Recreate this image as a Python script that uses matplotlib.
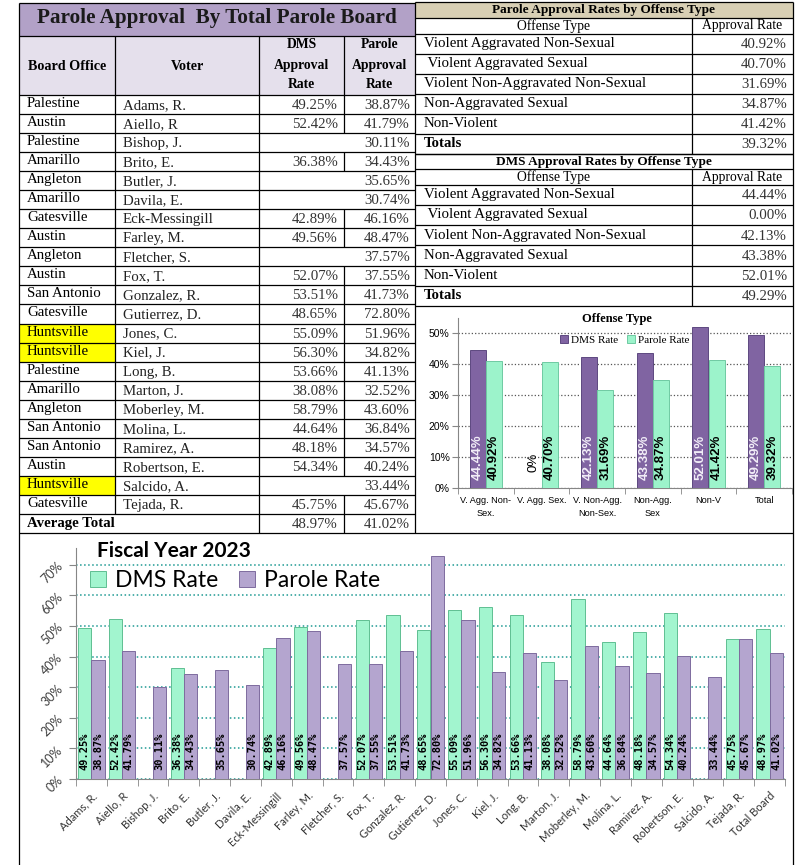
import numpy as np
import matplotlib
matplotlib.use('Agg')
import matplotlib.pyplot as plt
import matplotlib.patches as pch

# ---- data ----
offices = ["Palestine", "Austin", "Palestine", "Amarillo", "Angleton", "Amarillo",
           "Gatesville", "Austin", "Angleton", "Austin", "San Antonio", "Gatesville",
           "Huntsville", "Huntsville", "Palestine", "Amarillo", "Angleton",
           "San Antonio", "San Antonio", "Austin", "Huntsville", "Gatesville"]
voters = ["Adams, R.", "Aiello, R", "Bishop, J.", "Brito, E.", "Butler, J.", "Davila, E.",
          "Eck-Messingill", "Farley, M.", "Fletcher, S.", "Fox, T.", "Gonzalez, R.",
          "Gutierrez, D.", "Jones, C.", "Kiel, J.", "Long, B.", "Marton, J.",
          "Moberley, M.", "Molina, L.", "Ramirez, A.", "Robertson, E.", "Salcido, A.",
          "Tejada, R."]
dms_rate = [49.25, 52.42, None, 36.38, None, None, 42.89, 49.56, None, 52.07, 53.51,
            48.65, 55.09, 56.30, 53.66, 38.08, 58.79, 44.64, 48.18, 54.34, None, 45.75]
parole_rate = [38.87, 41.79, 30.11, 34.43, 35.65, 30.74, 46.16, 48.47, 37.57, 37.55,
               41.73, 72.80, 51.96, 34.82, 41.13, 32.52, 43.60, 36.84, 34.57, 40.24,
               33.44, 45.67]
avg_dms = 48.97
avg_parole = 41.02
highlight_office = "Huntsville"

offense_types = ["Violent Aggravated Non-Sexual", " Violent Aggravated Sexual",
                 "Violent Non-Aggravated Non-Sexual", "Non-Aggravated Sexual",
                 "Non-Violent"]
offense_parole = [40.92, 40.70, 31.69, 34.87, 41.42]
offense_parole_total = 39.32
offense_dms = [44.44, 0.00, 42.13, 43.38, 52.01]
offense_dms_total = 49.29
offense_short = ["V. Agg. Non-\nSex.", "V. Agg. Sex.", "V. Non-Agg.\nNon-Sex.",
                 "Non-Agg.\nSex", "Non-V", "Total"]

W, H = 811, 865
SERIF = "Liberation Serif"
ROW_FS = 10.7

fig = plt.figure(figsize=(W / 100, H / 100), dpi=100)
bg = fig.add_axes([0, 0, 1, 1])
bg.set_xlim(0, W)
bg.set_ylim(H, 0)
bg.axis('off')


def px_axes(x0, y0, x1, y1):
    a = fig.add_axes([x0 / W, 1 - y1 / H, (x1 - x0) / W, (y1 - y0) / H])
    a.set_facecolor('none')
    return a


def line(xs, ys, lw=0.9):
    bg.plot(xs, ys, color='black', lw=lw, solid_capstyle='butt')


def pct(v):
    return f"{v:.2f}%"


# ---- left table ----
L, C1, C2, C3, R = 19, 115, 259, 344, 415
top, title_b, head_b = 3, 36, 95
rh = (533 - head_b) / 23

bg.add_patch(pch.Rectangle((L, top), R - L, title_b - top, fc='#b2a1c7', ec='none'))
bg.add_patch(pch.Rectangle((L, title_b), R - L, head_b - title_b, fc='#e5e0ec', ec='none'))
bg.text((L + R) / 2, 18, "Parole Approval  By Total Parole Board", family=SERIF,
        weight='bold', size=15.2, ha='center', va='center', color='#1a1a1a')
bg.text((L + C1) / 2, 66, "Board Office", family=SERIF, weight='bold', size=10.2,
        ha='center', va='center')
bg.text((C1 + C2) / 2, 66, "Voter", family=SERIF, weight='bold', size=10.2,
        ha='center', va='center')
for xc in [(C2 + C3) / 2, (C3 + R) / 2]:
    first = "DMS" if xc < C3 else "Parole"
    for t, yy in zip([first, "Approval", "Rate"], [45, 65, 84]):
        bg.text(xc, yy, t, family=SERIF, weight='bold', size=9.8, ha='center', va='center')

for yy in [top, title_b, head_b]:
    line([L, R], [yy, yy])
for xx in [C1, C2, C3]:
    line([xx, xx], [title_b, head_b])

for i in range(22):
    y0 = head_b + i * rh
    if offices[i] == highlight_office:
        bg.add_patch(pch.Rectangle((L, y0), C1 - L, rh, fc='#ffff00', ec='none'))
    bg.text(L + 8, y0 + 8.5, offices[i], family=SERIF, size=ROW_FS, va='center')
    bg.text(C1 + 8, y0 + 10.5, voters[i], family=SERIF, size=ROW_FS, va='center',
            color='#222222')
    if dms_rate[i] is not None:
        bg.text(C3 - 6, y0 + 10.5, pct(dms_rate[i]), family=SERIF, size=ROW_FS,
                ha='right', va='center', color='#333333')
        line([C3, C3], [y0, y0 + rh])
    bg.text(R - 5, y0 + 10.5, pct(parole_rate[i]), family=SERIF, size=ROW_FS,
            ha='right', va='center', color='#333333')
    line([C1, C1], [y0, y0 + rh])
    line([C2, C2], [y0, y0 + rh])
    line([L, R], [y0 + rh, y0 + rh])

y0 = head_b + 22 * rh
bg.text(L + 8, y0 + 9.5, "Average Total", family=SERIF, weight='bold', size=ROW_FS,
        va='center')
bg.text(C3 - 6, y0 + 10.5, pct(avg_dms), family=SERIF, size=ROW_FS, ha='right',
        va='center', color='#333333')
bg.text(R - 5, y0 + 10.5, pct(avg_parole), family=SERIF, size=ROW_FS, ha='right',
        va='center', color='#333333')
line([C2, C2], [y0, y0 + rh])
line([C3, C3], [y0, y0 + rh])

# ---- right tables ----
RL, RC, RR = 415, 692, 793


def offense_table(y_top, y_tb, y_hb, y_bot, title, names, vals, total, fill):
    if fill:
        bg.add_patch(pch.Rectangle((RL, y_top), RR - RL, y_tb - y_top, fc=fill, ec='none'))
    bg.text((RL + RR) / 2, (y_top + y_tb) / 2 + 0.5, title, family=SERIF, weight='bold',
            size=9.5, ha='center', va='center')
    bg.text((RL + RC) / 2, (y_tb + y_hb) / 2 + 0.5, "Offense Type", family=SERIF, size=9.8,
            ha='center', va='center')
    bg.text((RC + RR) / 2, (y_tb + y_hb) / 2 + 0.5, "Approval Rate", family=SERIF,
            size=9.8, ha='center', va='center')
    line([RL, RR], [y_top, y_top])
    line([RL, RR], [y_tb, y_tb])
    line([RL, RR], [y_hb, y_hb])
    line([RC, RC], [y_tb, y_bot])
    h = (y_bot - y_hb) / 6
    rows = list(zip(names, vals)) + [("Totals", total)]
    for k, (nm, v) in enumerate(rows):
        yc = y_hb + k * h + h / 2
        bold = 'bold' if nm == "Totals" else 'normal'
        bg.text(RL + 9, yc, nm, family=SERIF, size=ROW_FS, weight=bold, va='center')
        bg.text(RR - 6, yc + 1, pct(v), family=SERIF, size=ROW_FS, ha='right',
                va='center', color='#333333')
        line([RL, RR], [y_hb + (k + 1) * h] * 2)


offense_table(2, 17.5, 33.5, 154, "Parole Approval Rates by Offense Type",
              offense_types, offense_parole, offense_parole_total, '#d8cfb4')
offense_table(154, 168.5, 184.5, 306, "DMS Approval Rates by Offense Type",
              offense_types, offense_dms, offense_dms_total, None)

line([RL, RL], [2, 533])
line([RR, RR], [2, H])
line([L, L], [top, H])
line([L, RR], [533, 533])

# ---- small offense chart ----
dms_dark = '#8064a2'
green = '#9cf3cb'
ax2 = px_axes(458, 318, 792, 488)
x6 = np.arange(6)
d_vals = np.array(offense_dms + [offense_dms_total]) / 100
p_vals = np.array(offense_parole + [offense_parole_total]) / 100
bw = 0.29
ax2.bar(x6 - bw / 2, d_vals, bw, color=dms_dark, edgecolor='#5d4880', lw=0.7,
        label='DMS Rate', zorder=3)
ax2.bar(x6 + bw / 2, p_vals, bw, color=green, edgecolor='#6fcaa2', lw=0.7,
        label='Parole Rate', zorder=3)
for i in range(6):
    if d_vals[i] > 0:
        ax2.text(x6[i] - bw / 2, 0.026, f"{d_vals[i] * 100:.2f}%", rotation=90, ha='center',
                 va='bottom', color='#f2eef8', weight='bold', size=9.5,
                 family='Liberation Sans', zorder=4)
    else:
        ax2.text(x6[i] - bw / 2, 0.052, "0%", rotation=90, ha='center', va='bottom',
                 color='black', size=9.5, family='Liberation Sans', zorder=4)
    ax2.text(x6[i] + bw / 2, 0.026, f"{p_vals[i] * 100:.2f}%", rotation=90, ha='center',
             va='bottom', color='black', weight='bold', size=9.5,
             family='Liberation Sans', zorder=4)
ax2.set_xlim(-0.5, 5.5)
ax2.set_ylim(0, 0.548)
ax2.set_yticks(np.arange(0, 0.51, 0.1))
ax2.set_yticklabels([f"{int(round(t * 100))}%" for t in np.arange(0, 0.51, 0.1)],
                    family='Liberation Sans', size=7.5)
ax2.yaxis.grid(True, linestyle=':', color='#555555', lw=0.9)
ax2.set_axisbelow(True)
ax2.set_xticks(x6)
ax2.set_xticklabels(offense_short, family='Liberation Sans', size=6.6, linespacing=1.5)
ax2.set_xticks(np.arange(-0.5, 6, 1), minor=True)
ax2.tick_params(axis='x', which='major', length=0, pad=6)
ax2.tick_params(axis='x', which='minor', length=4, color='#868686')
ax2.tick_params(axis='y', length=4, color='#868686', pad=2)
for s in ['top', 'right']:
    ax2.spines[s].set_visible(False)
for s in ['left', 'bottom']:
    ax2.spines[s].set_color('#868686')
ax2.legend(loc='center', bbox_to_anchor=(0.5, 0.87), ncol=2, frameon=False,
           prop={'family': SERIF, 'size': 8}, handlelength=0.7, handleheight=0.7,
           handletextpad=0.3, columnspacing=0.8, borderpad=0)
bg.text(617, 319, "Offense Type", family=SERIF, weight='bold', size=9, ha='center',
        va='center')

# ---- main fiscal-year chart ----
main_green = '#a2f5cf'
main_purple = '#b4a5cf'
names = voters + ["Total Board"]
dms_all = np.array([np.nan if v is None else v for v in dms_rate] + [avg_dms]) / 100
par_all = np.array(parole_rate + [avg_parole]) / 100
n = len(names)
x = np.arange(n)
w = 0.43
ax = px_axes(76, 548, 785, 779)
ax.bar(x - w / 2, dms_all, w, color=main_green, edgecolor='#5fbf92', lw=0.7,
       label='DMS Rate', zorder=3)
ax.bar(x + w / 2, par_all, w, color=main_purple, edgecolor='#7e6b9e', lw=0.7,
       label='Parole Rate', zorder=3)
for i in range(n):
    for xx, v in [(x[i] - w / 2, dms_all[i]), (x[i] + w / 2, par_all[i])]:
        if np.isnan(v):
            continue
        ax.text(xx, 0.028, f"{v * 100:.2f}%", rotation=90, ha='center', va='bottom',
                weight='bold', size=7.5, color='black', family='DejaVu Sans Mono',
                zorder=4)
ax.set_xlim(-0.5, n - 0.5)
ax.set_ylim(0, 0.755)
yt = np.arange(0, 0.71, 0.1)
ax.set_yticks(yt)
ax.set_yticklabels([f"{int(round(t * 100))}%" for t in yt], rotation=45, family='Lato',
                   size=9, color='#404040')
ax.yaxis.grid(True, linestyle=':', color='#1f9a93', lw=1.1)
ax.set_axisbelow(True)
ax.set_xticks(x)
ax.set_xticklabels(names, rotation=45, ha='right', rotation_mode='anchor', family='Lato',
                   size=8, color='#333333')
ax.set_xticks(np.arange(-0.5, n, 1), minor=True)
ax.tick_params(axis='x', which='major', length=0, pad=8)
ax.tick_params(axis='x', which='minor', length=5, color='#868686')
ax.tick_params(axis='y', length=5, color='#868686', pad=3)
for s in ['top', 'right']:
    ax.spines[s].set_visible(False)
for s in ['left', 'bottom']:
    ax.spines[s].set_color('#868686')
ax.legend(loc='center left', bbox_to_anchor=(0.02, 0.86), ncol=2, frameon=False,
          prop={'family': 'Lato', 'size': 16.5}, handlelength=0.7, handleheight=0.7,
          handletextpad=0.4, columnspacing=0.9, borderpad=0, borderaxespad=0)
bg.text(97, 551, "Fiscal Year 2023", family='Lato', weight='bold', size=15, ha='left',
        va='center')

fig.savefig('out.png', dpi=100)
